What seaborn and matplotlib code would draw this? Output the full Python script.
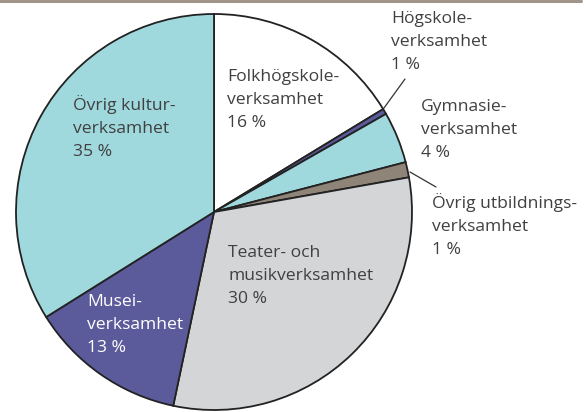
import matplotlib

matplotlib.use("Agg")
import matplotlib.pyplot as plt
import seaborn as sns
from matplotlib.lines import Line2D

W, H = 586, 412

# slices, clockwise from 12 o'clock
labels = [
    "Folkhögskole-\nverksamhet\n16 %",
    "Högskole-\nverksamhet\n1 %",
    "Gymnasie-\nverksamhet\n4 %",
    "Övrig utbildnings-\nverksamhet\n1 %",
    "Teater- och\nmusikverksamhet\n30 %",
    "Musei-\nverksamhet\n13 %",
    "Övrig kultur-\nverksamhet\n35 %",
]
shares = [16.3, 0.45, 4.2, 1.25, 31.1, 12.8, 33.9]
colors = ["#ffffff", "#5b5b9c", "#a0d9dd", "#8e8477", "#d4d5d7", "#5b5b9c", "#a0d9dd"]
text_colors = ["#404040", "#404040", "#404040", "#404040", "#404040", "#ffffff", "#404040"]

# label anchors (top-left, pixels from the top-left corner)
label_xy = [(227, 69), (391, 11), (421, 99), (432, 193), (228, 245), (87, 294), (73, 95)]
leaders = {1: [(384, 108), (405, 79)], 3: [(410, 172), (436, 187)]}

sns.set_theme(style="white")
plt.rcParams["font.family"] = ["Open Sans", "DejaVu Sans"]

fig = plt.figure(figsize=(W / 100, H / 100), dpi=100)
ax = fig.add_axes([0, 0, 1, 1])


def py(y):
    return H - y


ax.pie(
    shares,
    colors=colors,
    startangle=90,
    counterclock=False,
    center=(214, py(212)),
    radius=198,
    wedgeprops=dict(edgecolor="#222222", linewidth=1.3),
    frame=True,
)
ax.set_xlim(0, W)
ax.set_ylim(0, H)
ax.set_aspect("equal")
ax.axis("off")

for i, txt in enumerate(labels):
    x, y = label_xy[i]
    ax.text(x, py(y), txt, ha="left", va="top", fontsize=12.6,
            color=text_colors[i], linespacing=1.58)

for pts in leaders.values():
    (x0, y0), (x1, y1) = pts
    ax.plot([x0, x1], [py(y0), py(y1)], color="#333333", linewidth=0.9)

# thin rule along the top edge
fig.add_artist(Line2D([0, 581 / W], [1 - 1 / H, 1 - 1 / H], transform=fig.transFigure,
                      color="#9f9589", linewidth=2.2))

fig.savefig("out.png", dpi=100)
